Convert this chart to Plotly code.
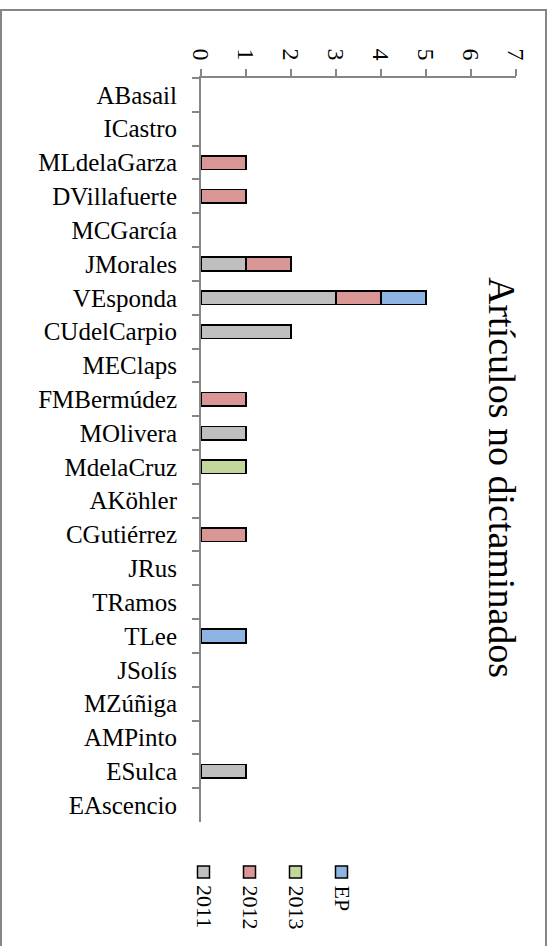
import plotly.graph_objects as go

categories = ["ABasail", "ICastro", "MLdelaGarza", "DVillafuerte", "MCGarcía", "JMorales",
              "VEsponda", "CUdelCarpio", "MEClaps", "FMBermúdez", "MOlivera", "MdelaCruz",
              "AKöhler", "CGutiérrez", "JRus", "TRamos", "TLee", "JSolís", "MZúñiga",
              "AMPinto", "ESulca", "EAscencio"]
s2011 = [None, None, None, None, None, 1, 3, 2, None, None, 1, None,
         None, None, None, None, None, None, None, None, 1, None]
s2012 = [None, None, 1, 1, None, 1, 1, None, None, 1, None, None,
         None, 1, None, None, None, None, None, None, None, None]
s2013 = [None, None, None, None, None, None, None, None, None, None, None, 1,
         None, None, None, None, None, None, None, None, None, None]
sEP = [None, None, None, None, None, None, 1, None, None, None, None, None,
       None, None, None, None, 1, None, None, None, None, None]
series_names = ["2011", "2012", "2013", "EP"]
series_values = [s2011, s2012, s2013, sEP]
colors = ["#BFBFBF", "#D99694", "#C3D69B", "#8EB4E3"]
x_ticks = [0, 1, 2, 3, 4, 5, 6, 7]
title_text = "Artículos no dictaminados"

FONT = "Liberation Serif"
W, H = 553, 946
L, R, T, B = 201, 516, 78, 822


def px(x):
    return (x - L) / (R - L)


def py(y):
    return (B - y) / (B - T)


fig = go.Figure()
for name, vals, col in zip(series_names, series_values, colors):
    fig.add_trace(go.Bar(
        y=categories, x=vals, name=name, orientation="h",
        marker=dict(color=col, line=dict(color="black", width=1.5)),
        width=0.4, showlegend=False,
    ))

shapes = [dict(type="rect", xref="paper", yref="paper",
               x0=px(1), x1=px(546), y0=py(10), y1=py(960),
               line=dict(color="#868686", width=2), fillcolor="rgba(0,0,0,0)", layer="below")]
annotations = [dict(text=title_text, textangle=90, xref="paper", yref="paper",
                    x=px(502), y=py(477), xanchor="center", yanchor="middle",
                    showarrow=False, font=dict(family=FONT, size=38, color="black"))]
for i, (name, col) in enumerate(zip(series_names, colors)):
    cx = 203.5 + 46 * i
    shapes.append(dict(type="rect", xref="paper", yref="paper",
                       x0=px(cx - 6), x1=px(cx + 6), y0=py(866), y1=py(878),
                       fillcolor=col, line=dict(color="black", width=1.5)))
    annotations.append(dict(text=name, textangle=90, xref="paper", yref="paper",
                            x=px(cx + 1), y=py(883), xanchor="center", yanchor="top",
                            showarrow=False, font=dict(family=FONT, size=22, color="black")))

fig.update_layout(
    barmode="stack",
    width=W, height=H,
    margin=dict(l=L, r=W - R, t=T, b=H - B, pad=0),
    paper_bgcolor="white", plot_bgcolor="white",
    font=dict(family=FONT, size=25, color="black"),
    shapes=shapes, annotations=annotations,
    xaxis=dict(side="top", range=[0, 7], tickvals=x_ticks, ticktext=[str(v) for v in x_ticks],
               tickangle=90, ticks="outside", ticklen=7, tickcolor="#868686", tickwidth=1.5,
               showline=True, linecolor="#868686", linewidth=2, showgrid=False, zeroline=False,
               automargin=False,
               tickfont=dict(family=FONT, size=24, color="black")),
    yaxis=dict(type="category", autorange="reversed", tickson="boundaries",
               ticks="outside", ticklen=7, tickcolor="#868686", tickwidth=1.5,
               showline=True, linecolor="#868686", linewidth=2, showgrid=False,
               ticklabelstandoff=17, automargin=False,
               tickfont=dict(family=FONT, size=25, color="black")),
)

fig.write_html("out.html", post_script="document.body.style.margin='0';",
               config={"displayModeBar": False})
